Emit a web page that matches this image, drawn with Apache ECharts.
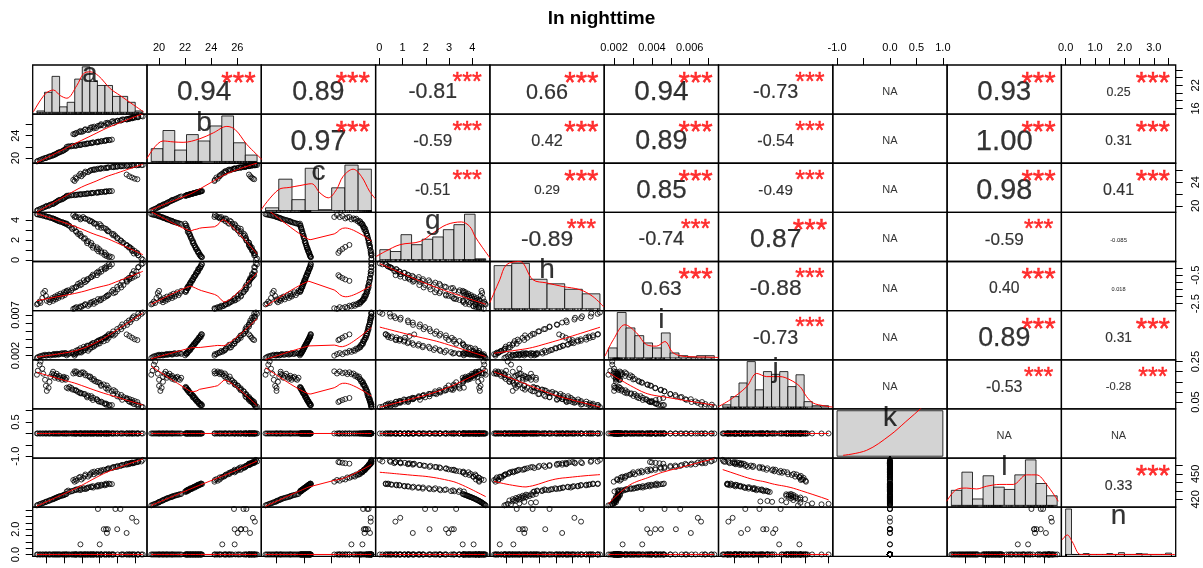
<!DOCTYPE html>
<html>
<head>
<meta charset="utf-8">
<title>ln nighttime</title>
<script src="https://cdn.jsdelivr.net/npm/echarts@6.0.0/dist/echarts.min.js"></script>
<style>
html, body { margin: 0; padding: 0; background: #fff; }
#chart { width: 1203px; height: 568px; }
</style>
</head>
<body>
<div id="chart"></div>
<script>
// ---------------- observations: one array per variable, rows aligned ----------------
const obsA = [
  15.0,15.1,15.3,15.4,15.6,15.7,15.9,16.0,16.1,16.3,16.4,16.5,16.7,16.8,16.9,17.0,17.1,17.2,17.3,17.4,17.5,17.6,17.8,17.9,18.0,18.1,18.2,18.3,
  18.32,18.62,18.5,18.84,19.16,18.94,19.38,19.36,19.8,19.58,19.98,19.84,20.36,20.22,20.54,20.72,20.6,21.06,21.02,21.28,21.24,21.7,21.66,21.92,21.84,22.18,22.18,22.56,22.52,22.74,22.74,23.12,23.02,23.36,
  19.2,19.05,19.4,19.3,19.95,19.7,20.15,19.85,20.35,20.7,20.4,20.9,20.95,21.35,21.15,21.6,21.4,22.0,21.8,22.15,22.45,22.15,22.8,22.7,23.0,22.9,23.55,23.35,23.75,23.5,24.0,23.95,24.4,24.3,24.65,24.5,25.05,25.0,25.4,25.25,25.6,25.65,26.1,25.8,26.3,26.3,26.65,26.8,
  25.0,25.3,25.6,25.9,26.2
];
const obsB = [
  19.4,19.5,19.6,19.7,19.8,19.9,20.0,20.0,20.1,20.2,20.3,20.3,20.4,20.5,20.6,20.6,20.7,20.8,20.9,21.0,21.0,21.1,21.2,21.3,21.4,21.5,21.6,21.7,
  22.0,22.05,22.1,22.1,22.15,22.2,22.2,22.25,22.3,22.35,22.4,22.4,22.45,22.5,22.55,22.6,22.6,22.65,22.7,22.75,22.8,22.8,22.85,22.9,22.95,23.0,23.0,23.05,23.1,23.15,23.2,23.2,23.25,23.3,
  24.25,24.28,24.50,24.40,24.65,24.65,24.77,24.85,25.05,24.98,25.15,25.10,25.42,25.30,25.52,25.38,25.62,25.80,25.75,25.87,25.80,26.05,26.03,26.27,26.13,26.30,26.25,26.50,26.48,26.60,26.67,26.63,26.72,26.70,26.90,26.88,26.90,26.98,27.12,27.00,27.20,27.13,27.35,27.28,27.37,27.30,27.52,27.43,
  26.9,27.0,27.1,27.2,27.3
];
const obsC = [
  19.2,19.3,19.4,19.5,19.6,19.7,19.8,19.9,20.0,20.0,20.1,20.2,20.3,20.3,20.4,20.5,20.6,20.7,20.8,20.9,21.0,21.0,21.1,21.2,21.3,21.4,21.5,21.6,
  21.70,21.72,21.75,21.78,21.80,21.82,21.85,21.88,21.90,21.92,21.95,21.98,22.00,22.02,22.05,22.08,22.10,22.12,22.15,22.18,22.20,22.22,22.25,22.28,22.30,22.32,22.35,22.38,22.40,22.42,22.45,22.47,22.48,22.50,
  24.2,24.4,24.6,24.8,25.0,25.15,25.3,25.45,25.6,25.7,25.8,25.9,26.0,26.05,26.1,26.15,26.2,26.25,26.3,26.3,26.35,26.4,26.4,26.45,26.5,26.5,26.55,26.55,26.6,26.6,26.65,26.65,26.7,26.7,26.7,26.75,26.75,26.8,26.8,26.8,26.85,26.85,26.85,26.9,26.9,26.9,26.9,26.9,
  25.3,25.0,24.8,24.6,24.5
];
const obsG = [
  4.58,4.55,4.52,4.49,4.46,4.43,4.40,4.36,4.33,4.30,4.26,4.22,4.18,4.15,4.11,4.07,4.03,3.99,3.95,3.91,3.87,3.83,3.79,3.75,3.71,3.67,3.63,3.59,
  3.64,3.42,3.46,3.23,3.17,3.09,2.81,2.87,2.63,2.59,2.35,2.41,2.17,2.13,1.87,1.88,1.67,1.70,1.47,1.42,1.22,1.26,1.06,1.09,0.86,0.87,0.72,0.74,0.50,0.54,0.38,0.36,0.27,0.28,
  4.30,4.50,4.29,4.39,4.16,4.27,4.30,4.06,4.16,4.04,4.13,3.87,3.93,3.71,3.84,3.62,3.62,3.59,3.31,3.45,3.21,3.22,2.98,3.12,2.87,2.87,2.59,2.63,2.40,2.46,2.20,2.16,1.91,1.97,1.72,1.75,1.45,1.44,1.24,1.23,0.90,0.92,0.69,0.64,0.48,0.45,0.13,0.02,
  1.5,1.3,1.1,0.9,0.7
];
const obsH = [
  -2.55,-2.50,-2.35,-2.45,-2.10,-1.75,-1.60,-1.95,-2.30,-2.20,-2.40,-2.25,-2.10,-2.30,-2.15,-2.00,-2.20,-2.05,-1.90,-2.10,-1.95,-1.80,-2.00,-1.85,-1.70,-1.90,-1.75,-1.60,
  -1.65,-1.68,-1.56,-1.57,-1.40,-1.42,-1.30,-1.34,-1.21,-1.11,-1.15,-1.02,-0.99,-0.86,-0.90,-0.78,-0.79,-0.63,-0.64,-0.55,-0.46,-0.50,-0.33,-0.34,-0.24,-0.25,-0.08,-0.09,0.02,-0.01,0.12,0.12,0.27,0.26,
  -2.82,-2.86,-2.74,-2.81,-2.73,-2.78,-2.64,-2.69,-2.57,-2.65,-2.53,-2.55,-2.43,-2.51,-2.38,-2.40,-2.31,-2.28,-2.18,-2.24,-2.11,-2.15,-1.95,-2.00,-1.86,-1.93,-1.76,-1.65,-1.70,-1.53,-1.50,-1.32,-1.36,-1.19,-1.19,-0.97,-0.96,-0.81,-0.67,-0.69,-0.44,-0.42,-0.24,-0.21,0.05,0.07,0.26,0.33,
  -0.9,-0.8,-0.7,-0.6,-0.5
];
const obsI = [
  0.0017,0.0018,0.0019,0.0019,0.0020,0.0020,0.0021,0.0020,0.0020,0.0021,0.0021,0.0020,0.0021,0.0021,0.0022,0.0021,0.0021,0.0022,0.0022,0.0021,0.0022,0.0022,0.0023,0.0022,0.0022,0.0023,0.0023,0.0022,
  0.00202,0.00225,0.00218,0.00231,0.00224,0.00242,0.00239,0.00260,0.00256,0.00270,0.00268,0.00290,0.00288,0.00308,0.00302,0.00320,0.00322,0.00340,0.00332,0.00352,0.00352,0.00366,0.00372,0.00388,0.00382,0.00400,0.00396,0.00422,0.00416,0.00434,0.00426,0.00448,0.00464,0.00458,
  0.00198,0.00217,0.00230,0.00216,0.00237,0.00236,0.00257,0.00245,0.00265,0.00258,0.00286,0.00280,0.00296,0.00310,0.00301,0.00333,0.00328,0.00349,0.00345,0.00378,0.00375,0.00396,0.00391,0.00418,0.00418,0.00448,0.00446,0.00466,0.00467,0.00497,0.00498,0.00527,0.00524,0.00550,0.00557,0.00583,0.00577,0.00606,0.00610,0.00631,0.00643,0.00665,0.00660,0.00683,0.00680,0.00717,0.00713,0.00730,
  0.0046,0.0044,0.0042,0.0040,0.0039
];
const obsJ = [
  0.185,0.205,0.235,0.250,0.215,0.190,0.160,0.130,0.105,0.120,0.150,0.175,0.190,0.200,0.185,0.170,0.180,0.190,0.175,0.165,0.180,0.170,0.160,0.170,0.175,0.165,0.160,0.170,
  0.121,0.125,0.117,0.120,0.110,0.112,0.106,0.108,0.097,0.100,0.093,0.093,0.089,0.090,0.080,0.082,0.073,0.079,0.069,0.071,0.060,0.063,0.063,0.052,0.055,0.049,0.052,0.041,0.044,0.036,0.042,0.034,0.035,0.035,
  0.202,0.191,0.201,0.193,0.196,0.188,0.197,0.188,0.191,0.179,0.182,0.172,0.176,0.164,0.162,0.151,0.155,0.145,0.148,0.135,0.137,0.130,0.132,0.118,0.120,0.111,0.109,0.103,0.103,0.089,0.090,0.078,0.085,0.073,0.075,0.061,0.064,0.064,0.050,0.053,0.046,0.050,0.037,0.040,0.030,0.037,0.027,0.025,
  0.070,0.065,0.060,0.055,0.050
];
const obsK = [
  0,0,0,0,0,0,0,0,0,0, 0,0,0,0,0,0,0,0,0,0, 0,0,0,0,0,0,0,0,
  0,0,0,0,0,0,0,0,0,0, 0,0,0,0,0,0,0,0,0,0, 0,0,0,0,0,0,0,0,0,0, 0,0,0,0,
  0,0,0,0,0,0,0,0,0,0, 0,0,0,0,0,0,0,0,0,0, 0,0,0,0,0,0,0,0,0,0, 0,0,0,0,0,0,0,0,0,0, 0,0,0,0,0,0,0,0,
  0,0,0,0,0
];
const obsL = [
  413.0,413.5,414.2,414.8,415.3,416.0,416.6,417.1,417.6,418.2,418.7,419.2,419.8,420.3,420.8,421.2,421.7,422.2,422.6,423.0,423.5,423.9,424.3,424.8,425.2,425.6,426.0,426.4,
  429.3,428.7,430.4,429.6,430.7,429.7,431.0,431.7,430.8,432.0,431.8,433.1,432.1,433.2,432.6,434.1,433.5,434.3,434.9,433.9,435.6,435.0,435.9,435.3,437.0,436.3,437.3,436.5,437.7,437.2,438.6,437.9,438.6,438.0,
  440.8,442.8,442.0,443.8,443.4,445.8,445.3,446.6,447.7,446.8,449.3,448.7,450.1,449.5,451.9,451.3,452.7,451.8,453.5,453.0,454.9,454.2,455.3,454.8,456.6,456.1,457.7,456.8,458.2,458.0,459.4,458.2,459.8,459.4,460.4,460.6,461.8,460.8,462.1,461.3,463.4,462.4,463.8,462.6,464.2,465.4,464.6,466.5,
  462.0,462.5,463.0,463.5,464.0
];
const obsN = [
  0,0,0,0,0,0,0,0,0,0, 0,0,0,0,0,0,0,0,0,0, 0,0,0,0,0,0,0,0,
  0,0,0,0,0,0,0,0,0,0, 0,0,0,0,0,0,0,0,0,0, 0,0,0,0,0,0,0,0,0,0, 0,0,0,0,
  0,0,0,0,0, 0,0,0.8,0,0, 0,0,0,0,0, 0,0,0.8,3.6,0, 2.0,0,1.7,2.0,0, 2.0,0,0,3.6,0, 0,2.0,0,3.6,0, 0,0,1.7,0,0, 2.9,0,2.6,0,0, 0,0,0,
  0,0,0,0,0
];

// ---------------- diagonal histograms (bar heights relative to tallest bar) ----------------
const histA = [0.03,0.44,0.79,0.12,0.22,0.73,1.00,0.68,0.59,0.59,0.35,0.35,0.22,0.03];
const histB = [0.28,0.68,0.25,0.59,0.45,0.78,1.00,0.41,0.14];
const histC = [0.06,0.69,0.24,0.93,0.02,0.50,1.00,0.91];
const histG = [0.22,0.18,0.55,0.33,0.45,0.50,0.66,0.77,1.00,0.02];
const histH = [0.95,1.00,0.65,0.55,0.43,0.33];
const histI = [0.22,1.00,0.66,0.49,0.33,0.22,0.55,0.11,0.05,0.02,0.05,0.05];
const histJ = [0.05,0.23,0.53,1.00,0.38,0.78,0.72,0.78,0.45,0.71,0.12,0.03,0.03];
const histK = [1.00];
const histL = [0.33,0.73,0.14,0.65,0.40,0.35,0.67,1.00,0.48,0.21];
const histN = [1.00,0,0,0.02,0,0,0,0.02,0,0.04,0,0,0.02,0.01,0,0,0,0.03];

// kernel density curves, [position in bin widths, height on the bar scale]
const densA = [[-0.47,0.01],[1.08,0.40],[2.18,0.49],[3.07,0.37],[3.95,0.31],[5.28,0.59],[6.17,0.85],[7.05,0.89],[8.15,0.80],[9.7,0.52],[11.0,0.37],[12.8,0.16],[14.1,0.01]];
const densB = [[-0.37,0.06],[1.0,0.45],[1.86,0.43],[2.71,0.42],[4.14,0.50],[5.29,0.63],[6.43,0.77],[7.14,0.70],[8.14,0.37],[9.43,0.04]];
const densC = [[-0.33,0.02],[0.98,0.46],[1.84,0.51],[2.6,0.55],[3.48,0.59],[4.11,0.39],[4.74,0.28],[5.36,0.46],[5.86,0.75],[6.62,0.91],[7.25,0.75],[7.87,0.42],[8.3,0.26]];
const densG = [[-0.35,0.07],[0.5,0.18],[1.9,0.33],[3.8,0.40],[5.05,0.59],[6.3,0.77],[7.7,0.83],[8.5,0.73],[9.0,0.51],[9.6,0.30],[10.4,0.04]];
const densH = [[-0.25,0.13],[0.32,0.64],[0.7,0.97],[1.46,1.04],[2.2,0.64],[2.97,0.57],[3.9,0.49],[4.87,0.42],[5.6,0.27],[6.22,0.04]];
const densI = [[-0.39,0.04],[0.55,0.40],[1.87,0.73],[3.2,0.55],[4.33,0.29],[5.46,0.26],[6.4,0.36],[7.35,0.11],[8.86,0.03],[11.1,0.02],[12.45,0.01]];
const densJ = [[-0.54,0.01],[0.9,0.16],[2.95,0.45],[4.18,0.74],[5.4,0.67],[7.04,0.67],[8.27,0.60],[9.5,0.45],[10.3,0.23],[11.1,0.09],[12.4,0.03],[13.5,0.0]];
const densK = [[0.057,0.02],[0.28,0.13],[0.5,0.46],[0.65,0.76],[0.81,1.09],[0.9,1.3]];
const densL = [[-0.44,0.09],[0.5,0.35],[1.45,0.38],[2.39,0.36],[3.33,0.42],[4.59,0.46],[5.85,0.46],[7.11,0.67],[8.05,0.67],[9.0,0.46],[10.1,0.09]];
const densN = [[-0.62,0.32],[0.28,0.43],[1.13,0.28],[2.54,0.0],[4.24,0.0],[18.6,0.0]];

// ---------------- axis ticks and labels ----------------
const ticksA = [16,18,20,22,24,26];            const sideLabelsA = ['16','22'];
const ticksB = [20,22,24,26];                  const topLabelsB = ['20','22','24','26'];   const sideLabelsB = ['20','24'];
const ticksC = [20,22,24,26];                  const sideLabelsC = ['20','24'];
const ticksG = [0,1,2,3,4];                    const topLabelsG = ['0','1','2','3','4'];   const sideLabelsG = ['0','2','4'];
const ticksH = [-2.5,-2,-1.5,-1,-0.5,0];       const sideLabelsH = ['-2.5','-0.5'];
const ticksI = [0.002,0.003,0.004,0.005,0.006,0.007]; const topLabelsI = ['0.002','0.004','0.006']; const sideLabelsI = ['0.002','0.007'];
const ticksJ = [0.05,0.10,0.15,0.20,0.25];     const sideLabelsJ = ['0.05','0.25'];
const ticksK = [-1,-0.5,0,0.5,1];              const topLabelsK = ['-1.0','0.0','0.5','1.0']; const sideLabelsK = ['-1.0','0.5'];
const ticksL = [420,430,440,450,460];          const sideLabelsL = ['420','450'];
const ticksN = [0,0.5,1,1.5,2,2.5,3,3.5];      const topLabelsN = ['0.0','1.0','2.0','3.0']; const sideLabelsN = ['0.0','2.0'];

// ---------------- correlations (upper triangle, row by row) ----------------
const corrA = ['0.94','0.89','-0.81','0.66','0.94','-0.73','NA','0.93','0.25'];
const corrB = ['0.97','-0.59','0.42','0.89','-0.54','NA','1.00','0.31'];
const corrC = ['-0.51','0.29','0.85','-0.49','NA','0.98','0.41'];
const corrG = ['-0.89','-0.74','0.87','NA','-0.59','-0.085'];
const corrH = ['0.63','-0.88','NA','0.40','0.018'];
const corrI = ['-0.73','NA','0.89','0.31'];
const corrJ = ['NA','-0.53','-0.28'];
const corrK = ['NA','NA'];
const corrL = ['0.33'];
const starsA = ['***','***','***','***','***','***','','***','***'];
const starsB = ['***','***','***','***','***','','***','***'];
const starsC = ['***','***','***','***','','***','***'];
const starsG = ['***','***','***','','***',''];
const starsH = ['***','***','','***',''];
const starsI = ['***','','***','***'];
const starsJ = ['','***','***'];
const starsK = ['',''];
const starsL = ['***'];

const varNames = ['a','b','c','g','h','i','j','k','l','n'];
const titleText = 'ln nighttime';

// ---------------- assembly ----------------
const obsAll = [obsA, obsB, obsC, obsG, obsH, obsI, obsJ, obsK, obsL, obsN];
const histAll = [histA, histB, histC, histG, histH, histI, histJ, histK, histL, histN];
const densAll = [densA, densB, densC, densG, densH, densI, densJ, densK, densL, densN];
const ticksAll = [ticksA, ticksB, ticksC, ticksG, ticksH, ticksI, ticksJ, ticksK, ticksL, ticksN];
const topLabelsAll = [null, topLabelsB, null, topLabelsG, null, topLabelsI, null, topLabelsK, null, topLabelsN];
const sideLabelsAll = [sideLabelsA, sideLabelsB, sideLabelsC, sideLabelsG, sideLabelsH, sideLabelsI, sideLabelsJ, sideLabelsK, sideLabelsL, sideLabelsN];
const corrRows = [corrA, corrB, corrC, corrG, corrH, corrI, corrJ, corrK, corrL];
const starRows = [starsA, starsB, starsC, starsG, starsH, starsI, starsJ, starsK, starsL];

const NV = varNames.length;
const PLOT_L = 32.7, PLOT_T = 65, CELL_W = 114.3, CELL_H = 49.13;
const FONT = 'Liberation Sans, Arial, Helvetica, sans-serif';
const RED = '#ff0000';

// data range widened by 4% on each side; a constant variable spans -1..1
function paddedRange(v) {
  let lo = Math.min(...v), hi = Math.max(...v);
  if (hi === lo) { lo -= 1; hi += 1; }
  const p = (hi - lo) * 0.04;
  return [lo - p, hi + p];
}
const ranges = obsAll.map(paddedRange);

// locally weighted scatterplot smoothing (f = 2/3, 3 robustness steps)
function lowest(x, y, n, xs, nleft, nright, rw, userw, range) {
  const h = Math.max(xs - x[nleft], x[nright] - xs);
  const h9 = 0.999 * h, h1 = 0.001 * h;
  const w = new Array(n).fill(0);
  let a = 0, j = nleft;
  while (j < n) {
    const r = Math.abs(x[j] - xs);
    if (r <= h9) {
      w[j] = r <= h1 ? 1 : Math.pow(1 - Math.pow(r / h, 3), 3);
      if (userw) w[j] *= rw[j];
      a += w[j];
    } else if (x[j] > xs) break;
    j++;
  }
  const nrt = j - 1;
  if (a <= 0) return null;
  for (j = nleft; j <= nrt; j++) w[j] /= a;
  if (h > 0) {
    a = 0;
    for (j = nleft; j <= nrt; j++) a += w[j] * x[j];
    let b = xs - a, c = 0;
    for (j = nleft; j <= nrt; j++) c += w[j] * (x[j] - a) * (x[j] - a);
    if (Math.sqrt(c) > 0.001 * range) {
      b /= c;
      for (j = nleft; j <= nrt; j++) w[j] *= (b * (x[j] - a) + 1);
    }
  }
  let ys = 0;
  for (j = nleft; j <= nrt; j++) ys += w[j] * y[j];
  return ys;
}
function lowess(xIn, yIn, f, nsteps) {
  const n = xIn.length;
  const ord = xIn.map((v, i) => i).sort((p, q) => xIn[p] - xIn[q]);
  const x = ord.map(i => xIn[i]), y = ord.map(i => yIn[i]);
  const ns = Math.max(2, Math.min(n, Math.floor(f * n + 1e-7)));
  const ys = new Array(n).fill(0), rw = new Array(n).fill(1), res = new Array(n).fill(0);
  const range = x[n - 1] - x[0];
  for (let iter = 1; iter <= nsteps + 1; iter++) {
    let nleft = 0, nright = ns - 1;
    for (let i = 0; i < n; i++) {
      while (nright < n - 1) {
        const d1 = x[i] - x[nleft], d2 = x[nright + 1] - x[i];
        if (d1 <= d2) break;
        nleft++; nright++;
      }
      const v = lowest(x, y, n, x[i], nleft, nright, rw, iter > 1, range);
      ys[i] = v === null ? y[i] : v;
    }
    if (iter > nsteps) break;
    let sc = 0;
    for (let i = 0; i < n; i++) { res[i] = y[i] - ys[i]; sc += Math.abs(res[i]); }
    sc /= n;
    const s = res.map(Math.abs).sort((p, q) => p - q);
    const m = Math.floor(n / 2);
    const cmad = n % 2 === 0 ? 3 * (s[m - 1] + s[m]) : 6 * s[m];
    if (cmad < 1e-7 * sc) break;
    const c9 = 0.999 * cmad, c1 = 0.001 * cmad;
    for (let i = 0; i < n; i++) {
      const r = Math.abs(res[i]);
      rw[i] = r <= c1 ? 1 : (r <= c9 ? Math.pow(1 - (r / cmad) * (r / cmad), 2) : 0);
    }
  }
  return x.map((v, i) => [v, ys[i]]);
}

// text sizing like the correlation panel: width-normalised, scaled by |r|
const measureCtx = document.createElement('canvas').getContext('2d');
function widthAt100(t) {
  measureCtx.font = '100px "Liberation Sans", Arial, sans-serif';
  return measureCtx.measureText(t).width;
}
const BASE_TEXT_W = 57;

function labelFormatter(labels) {
  return v => {
    const s = labels.find(t => Math.abs(Number(t) - v) < 1e-9);
    return s === undefined ? '' : s;
  };
}
function makeAxis(gi, r, outer) {
  const ax = {
    type: 'value', gridIndex: gi, min: r[0], max: r[1], show: !!outer,
    splitLine: { show: false }, axisLine: { show: false, onZero: false }, silent: true
  };
  if (outer) {
    ax.position = outer.side;
    ax.axisTick = { show: true, length: 7, inside: false, customValues: outer.ticks,
      lineStyle: { color: '#000', width: 1 } };
    if (outer.labels) {
      const vertical = outer.side === 'left' || outer.side === 'right';
      ax.axisLabel = {
        show: true, customValues: outer.labels.map(Number), formatter: labelFormatter(outer.labels),
        fontSize: 11, color: '#000', fontFamily: FONT, rotate: vertical ? 90 : 0,
        margin: outer.side === 'top' ? 12 : (outer.side === 'left' ? 11 : 14.5),
        hideOverlap: false
      };
    } else {
      ax.axisLabel = { show: false };
    }
  }
  return ax;
}
function xOuter(r, c) {
  if (r === 0 && c % 2 === 1) return { side: 'top', ticks: ticksAll[c], labels: topLabelsAll[c] };
  if (r === NV - 1 && c % 2 === 0) return { side: 'bottom', ticks: ticksAll[c], labels: null };
  return null;
}
function yOuter(r, c) {
  if (c === 0 && r % 2 === 1) return { side: 'left', ticks: ticksAll[r], labels: sideLabelsAll[r] };
  if (c === NV - 1 && r % 2 === 0) return { side: 'right', ticks: ticksAll[r], labels: sideLabelsAll[r] };
  return null;
}

const grids = [], xAxes = [], yAxes = [], series = [];

for (let r = 0; r < NV; r++) {
  for (let c = 0; c < NV; c++) {
    const gi = r * NV + c;
    grids.push({
      left: PLOT_L + c * CELL_W, top: PLOT_T + r * CELL_H, width: CELL_W, height: CELL_H,
      show: true, borderColor: '#000', borderWidth: 1.3, backgroundColor: 'transparent', containLabel: false
    });
    let xr, yr;
    if (r === c) {
      const nb = histAll[c].length;
      xr = [-0.04 * nb, 1.04 * nb];
      yr = [-0.04, 1.04];
    } else {
      xr = ranges[c];
      yr = ranges[r];
    }
    xAxes.push(makeAxis(gi, xr, xOuter(r, c)));
    yAxes.push(makeAxis(gi, yr, yOuter(r, c)));

    if (r === c) {
      // histogram, density curve, rug and variable name
      const hist = histAll[c], nb = hist.length, v = obsAll[c];
      const lo = Math.min(...v), hi = Math.max(...v);
      series.push({
        type: 'custom', xAxisIndex: gi, yAxisIndex: gi, silent: true, z: 2,
        data: hist.map((h, k) => [k, k + 1, h]),
        encode: { x: [0, 1], y: 2 },
        renderItem: (params, api) => {
          const p0 = api.coord([api.value(0), 0]);
          const p1 = api.coord([api.value(1), api.value(2)]);
          return { type: 'rect',
            shape: { x: p0[0], y: p1[1], width: p1[0] - p0[0], height: p0[1] - p1[1] },
            style: { fill: '#d3d3d3', stroke: '#000', lineWidth: 0.8 } };
        }
      });
      series.push({
        type: 'custom', xAxisIndex: gi, yAxisIndex: gi, silent: true, z: 3,
        data: v.map(val => [hi === lo ? nb / 2 : (val - lo) / (hi - lo) * nb, -0.04]),
        encode: { x: 0, y: 1 },
        renderItem: (params, api) => {
          const p = api.coord([api.value(0), api.value(1)]);
          return { type: 'line', shape: { x1: p[0], y1: p[1], x2: p[0], y2: p[1] - 2 },
            style: { stroke: '#000', lineWidth: 0.6 } };
        }
      });
      series.push({
        type: 'line', xAxisIndex: gi, yAxisIndex: gi, silent: true, z: 4,
        data: densAll[c], showSymbol: false, symbol: 'none', smooth: 0.35, clip: true,
        lineStyle: { color: RED, width: 1 }
      });
      series.push({
        type: 'scatter', xAxisIndex: gi, yAxisIndex: gi, silent: true, z: 5,
        symbolSize: 1, itemStyle: { color: 'rgba(0,0,0,0)' },
        data: [[nb / 2, -0.04 + 0.833 * 1.08]],
        label: { show: true, position: 'inside', formatter: varNames[c], fontSize: 28,
          color: '#000', textBorderColor: '#000', textBorderWidth: 0.2, fontFamily: FONT, offset: [0, 1] }
      });
    } else if (r > c) {
      // scatter of column variable (x) against row variable (y) with smoother
      const xs = obsAll[c], ys = obsAll[r];
      const pts = xs.map((xv, i) => [xv, ys[i]]);
      series.push({
        type: 'scatter', xAxisIndex: gi, yAxisIndex: gi, silent: true, z: 2,
        data: pts, symbol: 'circle', symbolSize: 5,
        itemStyle: { color: 'rgba(0,0,0,0)', borderColor: '#000', borderWidth: 1 }
      });
      const sm = lowess(xs, ys, 2 / 3, 3);
      series.push({
        type: 'line', xAxisIndex: gi, yAxisIndex: gi, silent: true, z: 3,
        data: sm, showSymbol: false, symbol: 'none',
        lineStyle: { color: RED, width: 1 }
      });
    } else {
      // correlation coefficient and significance stars
      const txt = corrRows[r][c - r - 1], st = starRows[r][c - r - 1];
      const xr2 = ranges[c], yr2 = ranges[r];
      const cx = (xr2[0] + xr2[1]) / 2, cy = (yr2[0] + yr2[1]) / 2;
      const sx = xr2[0] + 0.8 * (xr2[1] - xr2[0]), sy = yr2[0] + 0.8 * (yr2[1] - yr2[0]);
      const items = [];
      if (txt === 'NA') {
        items.push({ value: [cx, cy], label: { formatter: txt, fontSize: 11, offset: [0, 2.5], color: '#000' } });
      } else {
        const base = 100 * BASE_TEXT_W / widthAt100(txt);
        const rv = Math.abs(Number(txt));
        const fs = base * (rv + 0.3) / 1.3;
        items.push({ value: [cx, cy], label: { formatter: txt, fontSize: fs, offset: [0, 3],
          color: '#000', textBorderColor: '#000', textBorderWidth: Math.min(0.25, fs / 100) } });
        if (st) items.push({ value: [sx, sy], label: { formatter: st, fontSize: base,
          offset: [0, 0.23 * base + 2.3], color: RED, textBorderColor: RED, textBorderWidth: 0.5 } });
      }
      series.push({
        type: 'scatter', xAxisIndex: gi, yAxisIndex: gi, silent: true, z: 5,
        symbolSize: 1, itemStyle: { color: 'rgba(0,0,0,0)' },
        label: { show: true, position: 'inside', fontFamily: FONT, textBorderWidth: 0 },
        data: items
      });
    }
  }
}

const chart = echarts.init(document.getElementById('chart'), null, { renderer: 'canvas', width: 1203, height: 568 });
chart.setOption({
  animation: false,
  backgroundColor: '#fff',
  textStyle: { fontFamily: FONT },
  title: {
    text: titleText, left: 'center', top: 4,
    textStyle: { fontSize: 19, fontWeight: 'bold', color: '#000', fontFamily: FONT }
  },
  grid: grids,
  xAxis: xAxes,
  yAxis: yAxes,
  series: series
});
</script>
</body>
</html>
